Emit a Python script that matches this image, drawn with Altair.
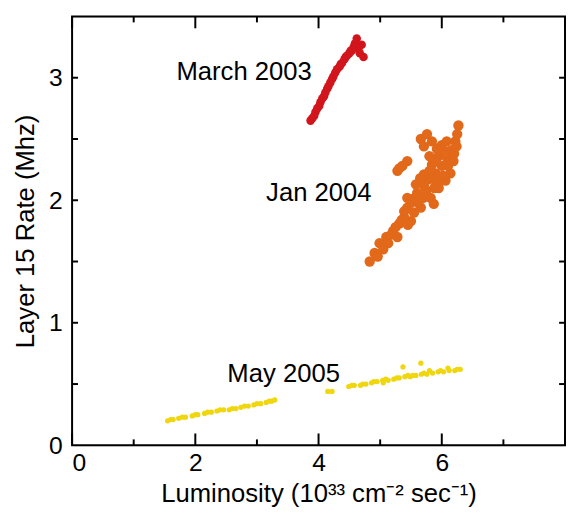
import altair as alt
import pandas as pd

# ---- data ----
red_x = [3.87, 3.90, 3.93, 3.95, 3.98, 4.01, 4.03, 4.06, 4.09, 4.11, 4.14, 4.16, 4.19, 4.22,
         4.24, 4.27, 4.30, 4.34, 4.38, 4.42, 4.46, 4.50, 4.54, 4.59, 4.62, 4.65, 4.67, 4.70, 4.73,
         4.36, 4.44, 4.52, 4.57]
red_y = [2.65, 2.67, 2.69, 2.72, 2.75, 2.77, 2.80, 2.83, 2.85, 2.88, 2.91, 2.93, 2.96, 2.99,
         3.01, 3.04, 3.07, 3.09, 3.12, 3.15, 3.18, 3.20, 3.22, 3.28, 3.32, 3.24, 3.20, 3.27, 3.17,
         3.11, 3.17, 3.22, 3.25]

orange_x = [4.83, 4.91, 4.99, 4.96, 5.10, 5.21, 5.31, 5.39, 5.44, 5.53, 5.60, 5.71, 5.79, 5.90,
            6.00, 6.09, 6.17, 6.22, 6.25, 6.27, 5.66, 5.82, 5.95, 6.06, 6.14, 6.19, 5.44, 5.58,
            5.71, 5.84, 5.95, 6.00, 5.66, 5.76, 5.84, 5.71, 5.31, 5.44, 5.28, 5.50, 5.28, 5.13,
            5.39, 5.87,
            5.05, 5.18, 5.25, 5.35, 5.45, 5.55, 5.50, 5.62, 5.70, 5.75, 5.88, 5.92, 6.02, 6.10,
            6.12, 6.08, 6.20, 5.65, 5.80, 5.90, 5.92, 6.05, 5.80, 5.36, 6.24]
orange_y = [1.50, 1.57, 1.65, 1.54, 1.70, 1.75, 1.81, 1.86, 1.94, 2.01, 2.06, 2.12, 2.17, 2.22,
            2.28, 2.34, 2.41, 2.48, 2.54, 2.61, 1.94, 2.02, 2.10, 2.16, 2.22, 2.32, 2.02, 2.13,
            2.21, 2.29, 2.36, 2.45, 2.50, 2.54, 2.48, 2.44, 2.26, 2.32, 2.24, 1.83, 1.70, 1.65,
            1.91, 1.97,
            1.60, 1.72, 1.78, 1.84, 1.80, 1.90, 1.98, 1.98, 2.02, 2.08, 2.10, 2.15, 2.20, 2.28,
            2.40, 2.48, 2.38, 2.18, 2.24, 2.32, 2.42, 2.38, 2.36, 2.28, 2.44]

yellow_x = [1.55, 1.64, 1.73, 1.84, 1.95, 2.04, 2.15, 2.26, 2.35, 2.46, 2.55, 2.66, 2.74, 2.86,
            2.95, 3.06, 3.15, 3.24, 3.29, 4.15, 4.22,
            4.49, 4.58, 4.68, 4.77, 4.86, 4.95, 5.04, 5.13, 5.22, 5.31, 5.40, 5.49, 5.58, 5.67,
            5.76, 5.85, 5.94, 6.03, 6.12, 6.21, 6.30, 5.37, 5.66, 5.05, 5.45, 5.80, 6.10,
            1.60, 1.79, 2.00, 2.20, 2.40, 2.60, 2.80, 3.00, 3.20,
            4.54, 4.72, 4.90, 5.09, 5.27, 5.53, 5.71, 5.98, 6.25]
yellow_y = [0.20, 0.21, 0.22, 0.23, 0.24, 0.25, 0.26, 0.27, 0.28, 0.29, 0.29, 0.30, 0.31, 0.32,
            0.33, 0.34, 0.35, 0.36, 0.37, 0.44, 0.44,
            0.48, 0.49, 0.49, 0.50, 0.51, 0.52, 0.53, 0.53, 0.54, 0.55, 0.56, 0.56, 0.57, 0.58,
            0.58, 0.59, 0.60, 0.60, 0.61, 0.61, 0.62, 0.64, 0.67, 0.51, 0.57, 0.61, 0.63,
            0.21, 0.23, 0.25, 0.27, 0.29, 0.30, 0.32, 0.34, 0.36,
            0.49, 0.50, 0.52, 0.54, 0.55, 0.57, 0.59, 0.61, 0.62]

labels = ["March 2003", "Jan 2004", "May 2005"]
label_x = [3.89, 4.86, 2.52]
label_y = [3.045, 2.055, 0.58]

x_major = [0, 2, 4, 6, 8]
x_minor = [1, 3, 5, 7]
y_ticks = [0.5, 1.0, 1.5, 2.0, 2.5, 3.0]
x_label_vals = [0, 2, 4, 6]
y_label_vals = [0, 1, 2, 3]

W, H = 500, 435
FONT = "Liberation Sans"

xs = alt.Scale(domain=[0, 8], nice=False, zero=False)
ys = alt.Scale(domain=[0, 3.5], nice=False, zero=False)

X = alt.X("x:Q", scale=xs,
          axis=alt.Axis(values=x_label_vals, ticks=False, domain=False, grid=False,
                        labelFont=FONT, labelFontSize=25, labelColor="black",
                        labelPadding=6, title="Luminosity (10³³ cm⁻² sec⁻¹)",
                        titleFont=FONT, titleFontSize=26, titleFontWeight="normal",
                        titleColor="black", titlePadding=5))
Y = alt.Y("y:Q", scale=ys,
          axis=alt.Axis(values=y_label_vals, ticks=False, domain=False, grid=False,
                        labelFont=FONT, labelFontSize=25, labelColor="black",
                        labelPadding=10, title="Layer 15 Rate (Mhz)",
                        titleFont=FONT, titleFontSize=26, titleFontWeight="normal",
                        titleColor="black", titlePadding=10))


def pts(xv, yv, color, size):
    df = pd.DataFrame({"x": xv, "y": yv})
    return alt.Chart(df).mark_circle(color=color, size=size, opacity=1).encode(x=X, y=Y)


xmaj = pd.DataFrame({"x": x_major})
xmin = pd.DataFrame({"x": x_minor})
ytk = pd.DataFrame({"y": y_ticks})

tick_layers = []
for df, ln in [(xmaj, 12), (xmin, 6)]:
    tick_layers.append(alt.Chart(df).mark_rule(color="black", strokeWidth=2).encode(
        x=X, y=alt.value(H), y2=alt.value(H - ln)))
    tick_layers.append(alt.Chart(df).mark_rule(color="black", strokeWidth=2).encode(
        x=X, y=alt.value(0), y2=alt.value(ln)))
tick_layers.append(alt.Chart(ytk).mark_rule(color="black", strokeWidth=2).encode(
    y=Y, x=alt.value(0), x2=alt.value(6)))
tick_layers.append(alt.Chart(ytk).mark_rule(color="black", strokeWidth=2).encode(
    y=Y, x=alt.value(W), x2=alt.value(W - 6)))

frame = alt.Chart(pd.DataFrame({"x": [0]})).mark_rect(
    fill=None, stroke="black", strokeWidth=2).encode(
    x=alt.value(0), x2=alt.value(W), y=alt.value(0), y2=alt.value(H))

lab_df = pd.DataFrame({"t": labels, "x": label_x, "y": label_y})
txt_right = alt.Chart(lab_df.iloc[:2]).mark_text(
    align="right", baseline="middle", font=FONT, fontSize=26, color="black").encode(
    x=X, y=Y, text="t:N")
txt_left = alt.Chart(lab_df.iloc[2:]).mark_text(
    align="left", baseline="middle", font=FONT, fontSize=26, color="black").encode(
    x=X, y=Y, text="t:N")

chart = alt.layer(
    pts(yellow_x, yellow_y, "#f0d60e", 28),
    pts(orange_x, orange_y, "#e2681a", 110),
    pts(red_x, red_y, "#d2151c", 75),
    *tick_layers,
    frame,
    txt_right, txt_left,
).properties(
    width=W, height=H,
    autosize=alt.AutoSizeParams(type="none"),
    padding={"left": 65, "top": 5, "right": 1, "bottom": 60},
).configure_view(stroke=None).configure(background="white")

chart.save("out.html", embed_options={"renderer": "svg", "actions": False})
